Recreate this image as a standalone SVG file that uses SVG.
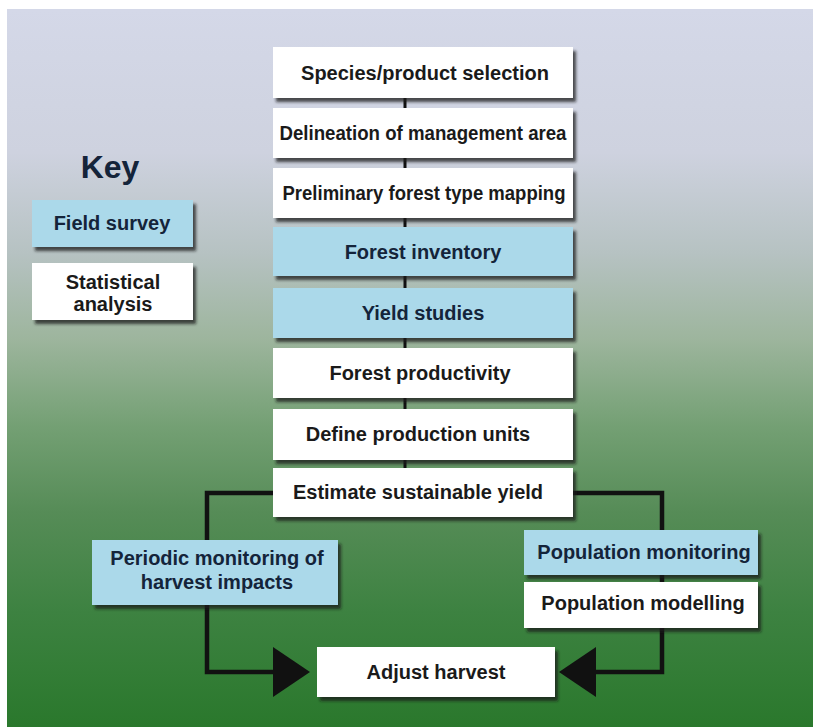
<svg xmlns="http://www.w3.org/2000/svg" width="813" height="727" viewBox="0 0 813 727">
<defs>
<linearGradient id="bg" x1="0" y1="0" x2="0" y2="1">
<stop offset="0" stop-color="#d4d8e8"/>
<stop offset="0.2" stop-color="#ced2df"/>
<stop offset="0.34" stop-color="#b6c2c2"/>
<stop offset="0.46" stop-color="#9db59d"/>
<stop offset="0.58" stop-color="#74a074"/>
<stop offset="0.7" stop-color="#568c57"/>
<stop offset="0.84" stop-color="#3d8241"/>
<stop offset="1" stop-color="#2a782c"/>
</linearGradient>
<filter id="sh" x="-10%" y="-20%" width="125%" height="150%">
<feDropShadow dx="3" dy="4" stdDeviation="1.5" flood-color="#1e1e1e" flood-opacity="0.75"/>
</filter>
<style>
.w{fill:#ffffff;filter:url(#sh)}
.b{fill:#abd9ea;filter:url(#sh)}
.t{font-family:"Liberation Sans",Arial,sans-serif;font-weight:bold;font-size:20px;text-anchor:middle;fill:#1a1a1a}
.tb{font-family:"Liberation Sans",Arial,sans-serif;font-weight:bold;font-size:20px;text-anchor:middle;fill:#14243a}
.ln{stroke:#111;stroke-width:4.5;fill:none}
.lm{stroke:#111;stroke-width:3;fill:none}
</style>
</defs>
<rect x="0" y="0" width="813" height="727" fill="#ffffff"/>
<rect x="7" y="9" width="806" height="718" fill="url(#bg)"/>

<g id="connectors">
<line class="lm" x1="405" y1="95" x2="405" y2="470"/>
<path class="ln" d="M275,493 H207 V672 H276"/>
<path class="ln" d="M571,493 H662 V672 H594"/>
<polygon points="273,647 310,672 273,697" fill="#111"/>
<polygon points="596,647 559,672 596,697" fill="#111"/>
</g>

<g id="key">
<text x="110" y="178" style="font-family:'Liberation Sans',Arial,sans-serif;font-weight:bold;font-size:32px;text-anchor:middle;fill:#14243a">Key</text>
</g>
<g id="key-field">
<rect class="b" x="32" y="200" width="161" height="47"/>
<text class="tb" x="112" y="230">Field survey</text>
</g>
<g id="key-stat">
<rect class="w" x="32" y="263" width="161" height="57"/>
<text class="t" x="113" y="289">Statistical</text>
<text class="t" x="113" y="311">analysis</text>
</g>

<g id="n1">
<rect class="w" x="273" y="47" width="300" height="51"/>
<text class="t" x="425" y="80">Species/product selection</text>
</g>
<g id="n2">
<rect class="w" x="273" y="108" width="300" height="50"/>
<text class="t" x="423" y="140" textLength="287" lengthAdjust="spacingAndGlyphs">Delineation of management area</text>
</g>
<g id="n3">
<rect class="w" x="273" y="168" width="300" height="50"/>
<text class="t" x="424" y="200" textLength="283" lengthAdjust="spacingAndGlyphs">Preliminary forest type mapping</text>
</g>
<g id="n4">
<rect class="b" x="273" y="227" width="300" height="49"/>
<text class="tb" x="423" y="259">Forest inventory</text>
</g>
<g id="n5">
<rect class="b" x="273" y="288" width="300" height="50"/>
<text class="tb" x="423" y="320">Yield studies</text>
</g>
<g id="n6">
<rect class="w" x="273" y="348" width="300" height="50"/>
<text class="t" x="420" y="380">Forest productivity</text>
</g>
<g id="n7">
<rect class="w" x="273" y="409" width="300" height="51"/>
<text class="t" x="418" y="441">Define production units</text>
</g>
<g id="n8">
<rect class="w" x="273" y="468" width="300" height="49"/>
<text class="t" x="418" y="499">Estimate sustainable yield</text>
</g>
<g id="n9">
<rect class="b" x="92" y="540" width="246" height="65"/>
<text class="tb" x="217" y="565">Periodic monitoring of</text>
<text class="tb" x="217" y="589">harvest impacts</text>
</g>
<g id="n10">
<rect class="b" x="524" y="530" width="234" height="45"/>
<text class="tb" x="644" y="559">Population monitoring</text>
</g>
<g id="n11">
<rect class="w" x="524" y="582" width="234" height="46"/>
<text class="t" x="643" y="610">Population modelling</text>
</g>
<g id="n12">
<rect class="w" x="317" y="647" width="238" height="50"/>
<text class="t" x="436" y="679">Adjust harvest</text>
</g>
</svg>
